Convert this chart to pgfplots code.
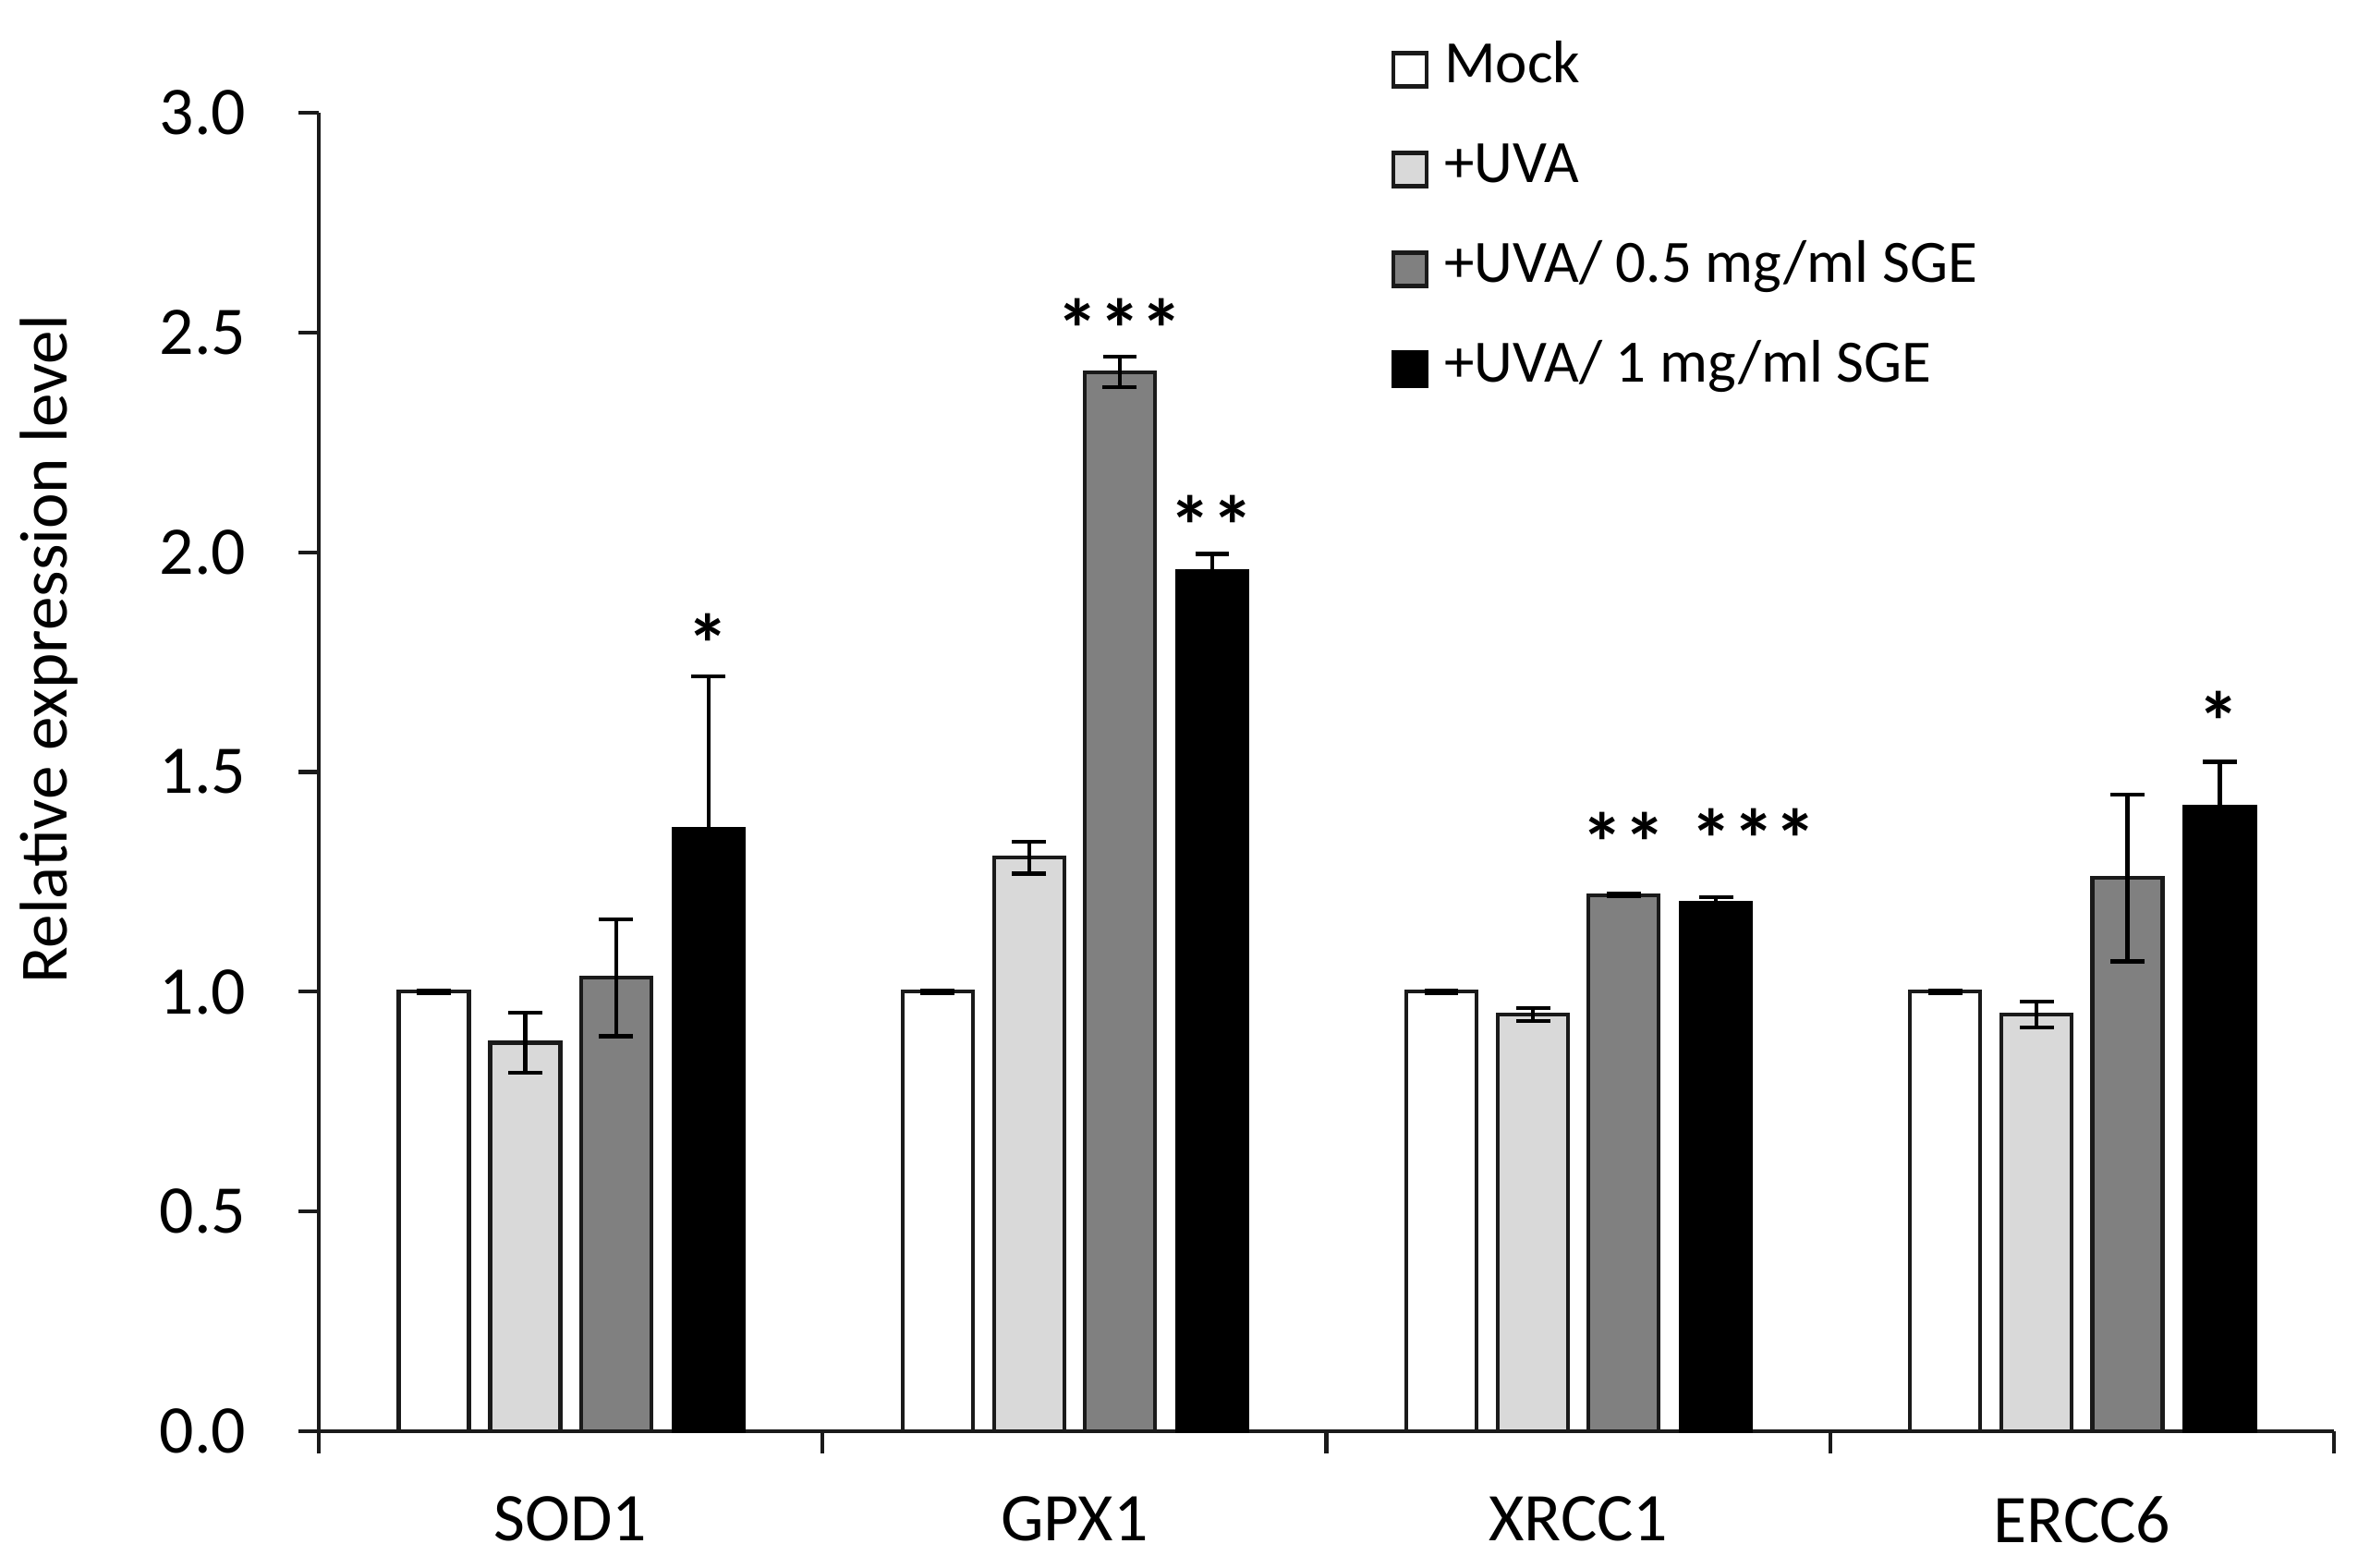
\documentclass[border=0pt]{standalone}
\usepackage{fontspec}
\setmainfont{Carlito}
\usepackage{pgfplots}
\pgfplotsset{compat=1.18}
\usepackage{pgfplotstable}
\definecolor{lgray}{HTML}{D9D9D9}
\definecolor{dgray}{HTML}{808080}
\definecolor{edge}{HTML}{1A1A1A}

\pgfplotstableread{
x mock mocke uva uvae half halfe one onee
0 1.000 0.003 0.884 0.068 1.032 0.133 1.371 0.347
1 1.000 0.003 1.305 0.036 2.410 0.035 1.957 0.039
2 1.000 0.003 0.948 0.015 1.220 0.003 1.202 0.014
3 1.000 0.003 0.948 0.030 1.259 0.190 1.420 0.103
}\data

\pgfplotstableread{
x y t
0.272 1.791 *
1.090 2.509 ***
1.272 2.060 **
2.090 1.340 **
2.348 1.349 ***
3.272 1.616 *
}\stars

\pgfplotsset{
  mybar/.style={ybar, bar width=0.38cm, bar shift=0pt, line width=0.6pt,
    legend image code/.code={\draw[##1, line width=0.6pt] (0cm,-0.02cm) rectangle (0.18cm,0.16cm);},
    error bars/y dir=both, error bars/y explicit,
    error bars/error bar style={line width=0.6pt, black},
    error bars/error mark options={rotate=90, mark size=0.092cm, line width=0.6pt, black}},
}

\begin{document}
\begin{tikzpicture}
\useasboundingbox (-1.725,-0.735) rectangle (11.1,7.745);
\begin{axis}[
  at={(0,0)}, anchor=south west,
  scale only axis, width=10.905cm, height=7.135cm,
  xmin=-0.5, xmax=3.5, ymin=0, ymax=3,
  axis lines*=left,
  axis line style={line width=0.6pt, edge},
  /pgf/number format/assume math mode=true,
  /pgf/number format/fixed, /pgf/number format/fixed zerofill, /pgf/number format/precision=1,
  ytick={0,0.5,1,1.5,2,2.5,3},
  xtick={0,1,2,3},
  xticklabels={SOD1,GPX1,XRCC1,ERCC6},
  minor xtick={-0.5,0.5,1.5,2.5,3.5},
  tick align=outside,
  major tick length=0.11cm, minor tick length=0.12cm,
  major x tick style={draw=none},
  minor x tick style={line width=0.6pt, edge},
  y tick style={line width=0.6pt, edge},
  tick label style={font=\fontsize{10.5}{12}\selectfont, text=black},
  yticklabel style={xshift=-0.16cm},
  xticklabel style={yshift=-0.12cm},
  ylabel={Relative expression level},
  ylabel style={at={(axis description cs:-0.134,0.593)}, anchor=center, font=\fontsize{10.4}{12}\selectfont},
  legend style={at={(axis description cs:0.5221,1.0827)}, anchor=north west, draw=none, fill=none,
    font=\fontsize{9.25}{11}\selectfont, row sep=0pt,
    nodes={inner sep=0pt, text height=0.35cm, text depth=0.19cm, anchor=base west},
    /tikz/every odd column/.append style={column sep=0.085cm}},
  legend cell align=left,
  clip=false,
]
\addplot[mybar, fill=white, draw=edge] table[x expr=\thisrow{x}-0.2715, y=mock, y error=mocke] {\data};
\addlegendentry{Mock}
\addplot[mybar, fill=lgray, draw=edge] table[x expr=\thisrow{x}-0.0899, y=uva, y error=uvae] {\data};
\addlegendentry{+UVA}
\addplot[mybar, fill=dgray, draw=edge] table[x expr=\thisrow{x}+0.0899, y=half, y error=halfe] {\data};
\addlegendentry{+UVA/ 0.5 mg/ml SGE}
\addplot[mybar, fill=black, draw=black] table[x expr=\thisrow{x}+0.2733, y=one, y error=onee] {\data};
\addlegendentry{+UVA/ 1 mg/ml SGE}
\addplot[draw=none, mark=none, forget plot, point meta=explicit symbolic,
  nodes near coords, every node near coord/.append style={anchor=center, inner sep=0pt,
  font=\fontsize{13}{13}\bfseries}]
  table[x=x, y=y, meta=t] {\stars};
\end{axis}
\end{tikzpicture}
\end{document}
